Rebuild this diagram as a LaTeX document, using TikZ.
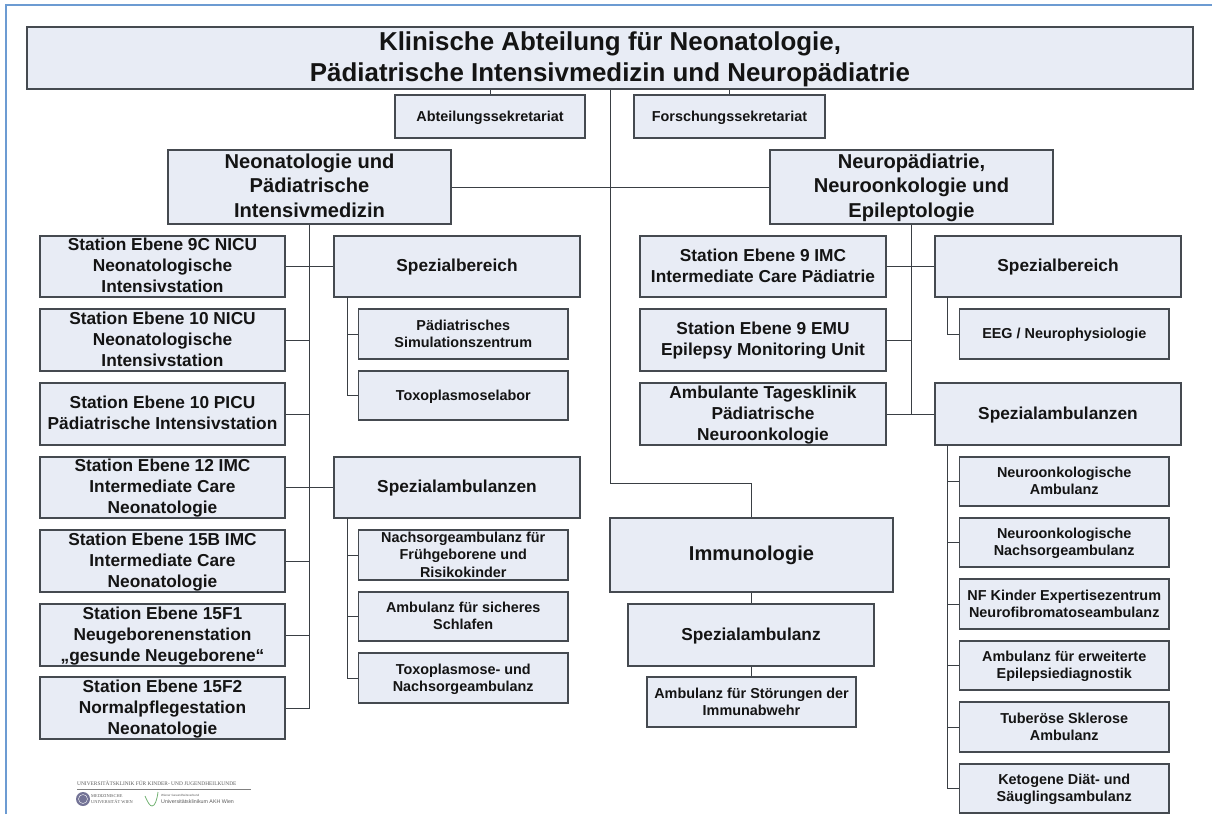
\documentclass[tikz,border=0pt]{standalone}
\usepackage{fontspec}
\setmainfont{Liberation Sans}
\newfontfamily\logoserif{Liberation Serif}
\definecolor{boxfill}{HTML}{E8ECF5}
\definecolor{boxline}{HTML}{454A50}
\definecolor{conline}{HTML}{3A3F44}
\definecolor{framecol}{HTML}{6C9BD2}
\definecolor{inkcol}{HTML}{141414}
\tikzset{
  orgbox/.style={draw=boxline,fill=boxfill,line width=1.2pt,inner sep=0pt,text=inkcol,font=\bfseries},
  titlebox/.style={orgbox,font=\fontsize{25.9}{31}\selectfont\bfseries},
  headbox/.style={orgbox,font=\fontsize{20.1}{24.5}\selectfont\bfseries},
  stationbox/.style={orgbox,font=\fontsize{17.3}{21}\selectfont\bfseries},
  smallbox/.style={orgbox,font=\fontsize{14.4}{17.3}\selectfont\bfseries},
  conn/.style={draw=conline,line width=1pt},
  logotext/.style={inner sep=0pt,anchor=west,text=black!65}
}
% name, x1, y1, x2, y2, style, text
\newcommand{\orgnode}[7]{%
  \pgfmathsetmacro{\cxv}{(#2+#4)/2}%
  \pgfmathsetmacro{\cyv}{(#3+#5)/2}%
  \pgfmathsetmacro{\wv}{#4-#2}%
  \pgfmathsetmacro{\hv}{#5-#3}%
  \node[#6,minimum width=\wv pt,minimum height=\hv pt] (#1) at (\cxv,\cyv) {\raisebox{\dimexpr-.5em-2.5pt\relax}{\smash{\begin{tabular}{@{}c@{}}#7\end{tabular}}}};%
}
\begin{document}
\begin{tikzpicture}[x=1pt,y=-1pt]
\useasboundingbox (0,0) rectangle (1212,814);
% frame
\draw[framecol,line width=2pt] (5.5,814) -- (5.5,4.5) -- (1212,4.5);
% boxes
\orgnode{top}{27}{27}{1193}{89}{titlebox}{Klinische Abteilung für Neonatologie,\\Pädiatrische Intensivmedizin und Neuropädiatrie}
\orgnode{abt}{395}{95}{585}{138}{smallbox}{Abteilungssekretariat}
\orgnode{for}{634}{95}{825}{138}{smallbox}{Forschungssekretariat}
\orgnode{neo}{168}{150}{451}{224}{headbox}{Neonatologie und\\Pädiatrische\\Intensivmedizin}
\orgnode{neu}{770}{150}{1053}{224}{headbox}{Neuropädiatrie,\\Neuroonkologie und\\Epileptologie}
% left stations
\orgnode{sa}{40}{236}{285}{297}{stationbox}{Station Ebene 9C NICU\\Neonatologische\\Intensivstation}
\orgnode{sb}{40}{309}{285}{371}{stationbox}{Station Ebene 10 NICU\\Neonatologische\\Intensivstation}
\orgnode{sc}{40}{383}{285}{445}{stationbox}{Station Ebene 10 PICU\\Pädiatrische Intensivstation}
\orgnode{sd}{40}{457}{285}{518}{stationbox}{Station Ebene 12 IMC\\Intermediate Care\\Neonatologie}
\orgnode{se}{40}{530}{285}{592}{stationbox}{Station Ebene 15B IMC\\Intermediate Care\\Neonatologie}
\orgnode{sf}{40}{604}{285}{666}{stationbox}{Station Ebene 15F1\\Neugeborenenstation\\„gesunde Neugeborene“}
\orgnode{sg}{40}{677}{285}{739}{stationbox}{Station Ebene 15F2\\Normalpflegestation\\Neonatologie}
% left specials
\orgnode{lb}{334}{236}{580}{297}{stationbox}{Spezialbereich}
\orgnode{lba}{358.5}{309}{568}{359}{smallbox}{Pädiatrisches\\Simulationszentrum}
\orgnode{lbb}{358.5}{371}{568}{420}{smallbox}{Toxoplasmoselabor}
\orgnode{la}{334}{457}{580}{518}{stationbox}{Spezialambulanzen}
\orgnode{laa}{358.5}{530}{568}{580}{smallbox}{Nachsorgeambulanz für\\Frühgeborene und\\Risikokinder}
\orgnode{lab}{358.5}{592}{568}{641}{smallbox}{Ambulanz für sicheres\\Schlafen}
\orgnode{lac}{358.5}{653}{568}{703}{smallbox}{Toxoplasmose- und\\Nachsorgeambulanz}
% right stations
\orgnode{ra}{640}{236}{886}{297}{stationbox}{Station Ebene 9 IMC\\Intermediate Care Pädiatrie}
\orgnode{rb}{640}{309}{886}{371}{stationbox}{Station Ebene 9 EMU\\Epilepsy Monitoring Unit}
\orgnode{rc}{640}{383}{886}{445}{stationbox}{Ambulante Tagesklinik\\Pädiatrische\\Neuroonkologie}
% right specials
\orgnode{qb}{935}{236}{1181}{297}{stationbox}{Spezialbereich}
\orgnode{qba}{959.5}{309}{1169}{359}{smallbox}{EEG / Neurophysiologie}
\orgnode{qa}{935}{383}{1181}{445}{stationbox}{Spezialambulanzen}
\orgnode{qaa}{959.5}{457}{1169}{506}{smallbox}{Neuroonkologische\\Ambulanz}
\orgnode{qab}{959.5}{518}{1169}{567}{smallbox}{Neuroonkologische\\Nachsorgeambulanz}
\orgnode{qac}{959.5}{579}{1169}{629}{smallbox}{NF Kinder Expertisezentrum\\Neurofibromatoseambulanz}
\orgnode{qad}{959.5}{641}{1169}{690}{smallbox}{Ambulanz für erweiterte\\Epilepsiediagnostik}
\orgnode{qae}{959.5}{702}{1169}{752}{smallbox}{Tuberöse Sklerose\\Ambulanz}
\orgnode{qaf}{959.5}{764}{1169}{813}{smallbox}{Ketogene Diät- und\\Säuglingsambulanz}
% immunology
\orgnode{imm}{610}{518}{893}{592}{headbox}{Immunologie}
\orgnode{ima}{628}{604}{874}{666}{stationbox}{Spezialambulanz}
\orgnode{imb}{647}{677}{856}{727}{smallbox}{Ambulanz für Störungen der\\Immunabwehr}
% helper coordinates
\coordinate (bend) at (610,483);
\coordinate (lbt) at (347,297);
\coordinate (lat) at (347,518);
\coordinate (qbt) at (947,297);
\coordinate (qat) at (947,445);
% connectors
\draw[conn] (top.south -| abt.north) -- (abt.north);
\draw[conn] (top.south -| for.north) -- (for.north);
\draw[conn] (top.south -| bend) -- (bend) -- (bend -| imm.north) -- (imm.north);
\draw[conn] (neo.east) -- (neu.west);
% left trunk
\draw[conn] (neo.south) -- (neo.south |- sg.east) -- (sg.east);
\draw[conn] (sa.east) -- (sa.east -| lb.west);
\draw[conn] (sb.east) -- (sb.east -| neo.south);
\draw[conn] (sc.east) -- (sc.east -| neo.south);
\draw[conn] (sd.east) -- (sd.east -| la.west);
\draw[conn] (se.east) -- (se.east -| neo.south);
\draw[conn] (sf.east) -- (sf.east -| neo.south);
\draw[conn] (lbt) -- (lbt |- lbb.west) -- (lbb.west);
\draw[conn] (lba.west) -- (lba.west -| lbt);
\draw[conn] (lat) -- (lat |- lac.west) -- (lac.west);
\draw[conn] (laa.west) -- (laa.west -| lat);
\draw[conn] (lab.west) -- (lab.west -| lat);
% right trunk
\draw[conn] (neu.south) -- (neu.south |- rc.east);
\draw[conn] (ra.east) -- (ra.east -| qb.west);
\draw[conn] (rb.east) -- (rb.east -| neu.south);
\draw[conn] (rc.east) -- (rc.east -| qa.west);
\draw[conn] (qbt) -- (qbt |- qba.west) -- (qba.west);
\draw[conn] (qat) -- (qat |- qaf.west) -- (qaf.west);
\draw[conn] (qaa.west) -- (qaa.west -| qat);
\draw[conn] (qab.west) -- (qab.west -| qat);
\draw[conn] (qac.west) -- (qac.west -| qat);
\draw[conn] (qad.west) -- (qad.west -| qat);
\draw[conn] (qae.west) -- (qae.west -| qat);
% immunology links
\draw[conn] (imm.south -| ima.north) -- (ima.north);
\draw[conn] (ima.south -| imb.north) -- (imb.north);
% logo
\node[logotext,font=\logoserif\fontsize{5.4}{6}\selectfont] (lgA) at (77,783) {UNIVERSITÄTSKLINIK FÜR KINDER- UND JUGENDHEILKUNDE};
\draw[black!50,line width=0.5pt] (77,789) -- (251,789);
\fill[blue!25!black!55] (83,799) circle (7);
\draw[white,line width=0.4pt] (83,799) circle (4.5);
\node[logotext,font=\logoserif\fontsize{4.4}{5.6}\selectfont,align=left] (lgB) at (91,799) {MEDIZINISCHE\\UNIVERSITÄT WIEN};
\draw[green!45!black!55,line width=0.8pt] (145,796) .. controls (148,803) and (150,806) .. (152,806) .. controls (155,806) and (157,800) .. (158,792);
\node[logotext,font=\fontsize{3}{4}\selectfont] (lgC) at (161,795.5) {Wiener Gesundheitsverbund};
\node[logotext,font=\fontsize{5.3}{6}\selectfont] (lgD) at (161,801.5) {Universitätsklinikum AKH Wien};
\end{tikzpicture}
\end{document}
